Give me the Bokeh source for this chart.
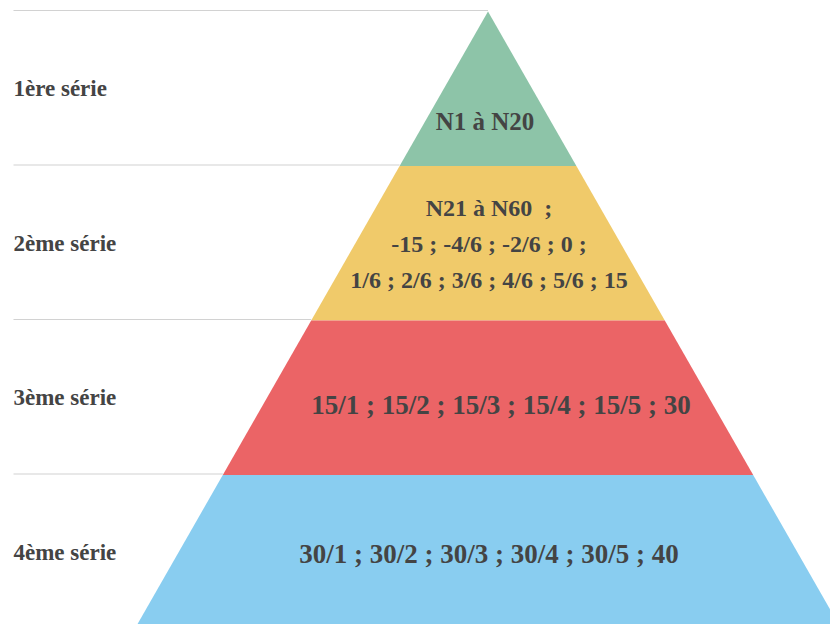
from bokeh.plotting import figure
from bokeh.models import Range1d, ColumnDataSource
from bokeh.core.properties import value
from bokeh.embed import file_html
from bokeh.resources import INLINE

# ---- data ----
series = ["1ère série", "2ème série", "3ème série", "4ème série"]
band_lines = [
    ["N1 à N20"],
    ["N21 à N60\u00a0 ;", "-15 ; -4/6 ; -2/6 ; 0 ;", "1/6 ; 2/6 ; 3/6 ; 4/6 ; 5/6 ; 15"],
    ["15/1 ; 15/2 ; 15/3 ; 15/4 ; 15/5 ; 30"],
    ["30/1 ; 30/2 ; 30/3 ; 30/4 ; 30/5 ; 40"],
]
colors = ["#8DC4A8", "#F0CA6A", "#EB6466", "#89CDF0"]

# ---- style / layout constants ----
font = value("Liberation Serif")
text_color = "#444444"
band_font_sizes = ["25px", "24px", "27px", "27px"]
label_dy = [33, 1, 7, 2]       # pixel shift of the inner labels (down)
label_dx = [-3, 1, 13, 1]      # pixel shift of the inner labels (right)
line_h = 36
px_y = 154.5                   # pixels per level
px_x = 353.6                   # pixels per unit half width

n = len(series)

p = figure(width=830, height=624, output_backend="svg", toolbar_location=None,
           x_axis_type=None, y_axis_type=None, min_border=0,
           x_range=Range1d(-487.5 / px_x, 342.5 / px_x),
           y_range=Range1d(5 / px_y, 629 / px_y))
p.outline_line_color = None
p.background_fill_color = "white"
p.border_fill_color = "white"

def hw(level):
    return (n - level) / n

# bands
xs, ys = [], []
for i in range(n):
    top = n - i
    bot = n - i - 1
    xs.append([-hw(top), hw(top), hw(bot), -hw(bot)])
    ys.append([top, top, bot, bot])
p.patches(xs=xs, ys=ys, fill_color=colors, line_color=None)

# grid lines at the top of each band
left_x = (13 - 487.5) / px_x
gx0, gx1, gy = [], [], []
for i in range(n):
    top = n - i
    gx0.append(left_x)
    gx1.append(-hw(top))
    gy.append(top + 1.0 / px_y)
p.segment(x0=gx0, y0=gy, x1=gx1, y1=gy, line_color="#d2d2d2", line_width=1.2)

# series labels
p.text(x=[left_x] * n, y=[n - i - 0.5 for i in range(n)], text=series,
       text_font=font, text_font_style="bold", text_font_size="23px",
       text_color=text_color, text_align="left", text_baseline="middle")

# band labels
for i, lines in enumerate(band_lines):
    k = len(lines)
    center = n - i - 0.5
    tx, ty, tt, off = [], [], [], []
    for j, line in enumerate(lines):
        tx.append(label_dx[i] / px_x)
        ty.append(center)
        tt.append(line)
        off.append(label_dy[i] + (j - (k - 1) / 2) * line_h)
    src = ColumnDataSource(dict(x=tx, y=ty, text=tt, yo=off))
    p.text(x="x", y="y", text="text", y_offset="yo", source=src,
           text_font=font, text_font_style="bold", text_font_size=band_font_sizes[i],
           text_color=text_color, text_align="center", text_baseline="middle")

open("out.html", "w").write(file_html(p, INLINE))
